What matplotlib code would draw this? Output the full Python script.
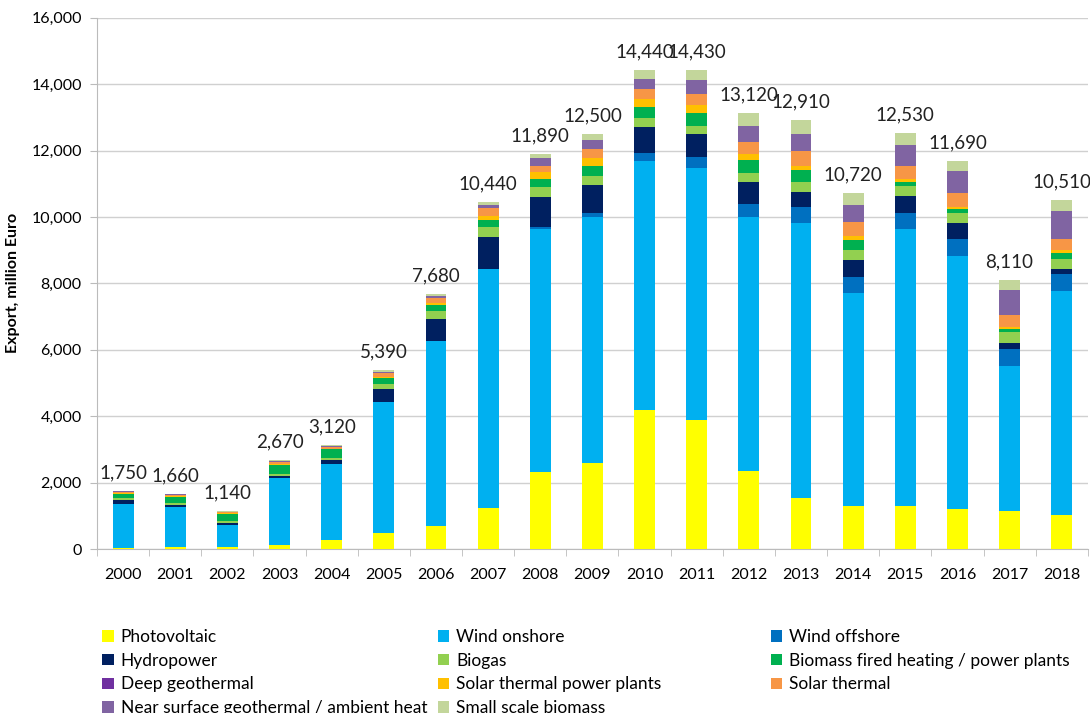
import numpy as np
import matplotlib
matplotlib.use("Agg")
import matplotlib.pyplot as plt
from matplotlib.patches import Patch

plt.rcParams['font.family'] = ['Lato', 'DejaVu Sans']

years = [str(y) for y in range(2000, 2019)]
totals = [1750, 1660, 1140, 2670, 3120, 5390, 7680, 10440, 11890, 12500,
          14440, 14430, 13120, 12910, 10720, 12530, 11690, 8110, 10510]

photovoltaic = [30, 60, 60, 110, 260, 490, 690, 1230, 2310, 2580,
                4190, 3880, 2340, 1530, 1300, 1310, 1220, 1140, 1020]
wind_onshore = [1340, 1205, 650, 2040, 2310, 3950, 5580, 7200, 7320, 7410,
                7490, 7600, 7670, 8290, 6400, 8320, 7610, 4370, 6760]
wind_offshore = [0, 0, 0, 0, 0, 0, 0, 0, 80, 140,
                 260, 320, 390, 490, 500, 500, 500, 500, 500]
hydropower = [100, 70, 80, 60, 110, 370, 660, 980, 900, 840,
              760, 710, 650, 430, 500, 500, 500, 200, 160]
biogas = [60, 40, 40, 50, 70, 160, 250, 300, 280, 270,
          290, 230, 270, 310, 300, 300, 300, 330, 310]
biomass_plants = [140, 200, 230, 270, 250, 190, 180, 200, 260, 310,
                  310, 390, 390, 380, 320, 130, 120, 80, 180]
deep_geothermal = [0] * 19
solar_thermal_pp = [10, 10, 10, 30, 20, 30, 40, 130, 200, 240,
                    250, 250, 180, 120, 100, 90, 60, 70, 70]
solar_thermal = [40, 40, 30, 50, 50, 100, 150, 240, 200, 270,
                 300, 330, 360, 430, 420, 400, 400, 350, 350]
near_surface = [20, 20, 20, 40, 30, 40, 70, 70, 230, 270,
                320, 410, 490, 520, 510, 610, 670, 750, 830]
small_biomass = [10, 15, 20, 20, 20, 60, 60, 90, 110, 170,
                 270, 310, 380, 410, 370, 370, 310, 320, 330]

series = [
    ('Photovoltaic', photovoltaic, '#FFFF00'),
    ('Wind onshore', wind_onshore, '#00B0F0'),
    ('Wind offshore', wind_offshore, '#0070C0'),
    ('Hydropower', hydropower, '#002060'),
    ('Biogas', biogas, '#92D050'),
    ('Biomass fired heating / power plants', biomass_plants, '#00B050'),
    ('Deep geothermal', deep_geothermal, '#7030A0'),
    ('Solar thermal power plants', solar_thermal_pp, '#FFC000'),
    ('Solar thermal', solar_thermal, '#F79646'),
    ('Near surface geothermal / ambient heat', near_surface, '#8064A2'),
    ('Small scale biomass', small_biomass, '#C3D69B'),
]

fig = plt.figure(figsize=(10.9, 7.13), dpi=100)
ax = fig.add_axes([0.089, 0.23, 0.909, 0.745])

pos = np.arange(len(years))
bottom = np.zeros(len(years))
for name, vals, col in series:
    ax.bar(pos, vals, 0.4, bottom=bottom, color=col, zorder=3)
    bottom += np.array(vals)

for p, t in zip(pos, totals):
    ax.annotate('{:,}'.format(t), (p, t), xytext=(0, 7), textcoords='offset points',
                ha='center', va='bottom', fontsize=13.5, color='#222222')

ax.set_xlim(-0.4, 18.5)
ax.set_ylim(0, 16000)
ax.set_yticks(range(0, 16001, 2000))
ax.set_yticklabels(['{:,}'.format(v) for v in range(0, 16001, 2000)], fontsize=11.5)
ax.set_xticks(pos)
ax.set_xticklabels(years, fontsize=11.5)
ax.set_xticks(np.arange(-0.5, 19, 1), minor=True)
ax.tick_params(axis='x', which='major', length=0, pad=14)
ax.tick_params(axis='x', which='minor', length=5, color='#bbbbbb')
ax.tick_params(axis='y', length=5, color='#bbbbbb', pad=6)
ax.grid(axis='y', color='#d0d0d0', linewidth=1, zorder=0)
for s in ['top', 'right']:
    ax.spines[s].set_visible(False)
for s in ['left', 'bottom']:
    ax.spines[s].set_color('#bbbbbb')
ax.set_ylabel('Export, million Euro', fontsize=11.5, fontweight='bold', labelpad=8)

handles = [Patch(facecolor=c, label=n) for n, v, c in series]
cols = [[0, 3, 6, 9], [1, 4, 7, 10], [2, 5, 8]]
xs = [0.094, 0.402, 0.707]
for x, idx in zip(xs, cols):
    fig.legend([handles[i] for i in idx], [series[i][0] for i in idx],
               loc='upper left', bbox_to_anchor=(x, 0.118), frameon=False,
               fontsize=12.5, handlelength=0.65, handleheight=0.65, handletextpad=0.4,
               labelspacing=0.45, borderpad=0, borderaxespad=0)

fig.savefig('out.png', dpi=100)
